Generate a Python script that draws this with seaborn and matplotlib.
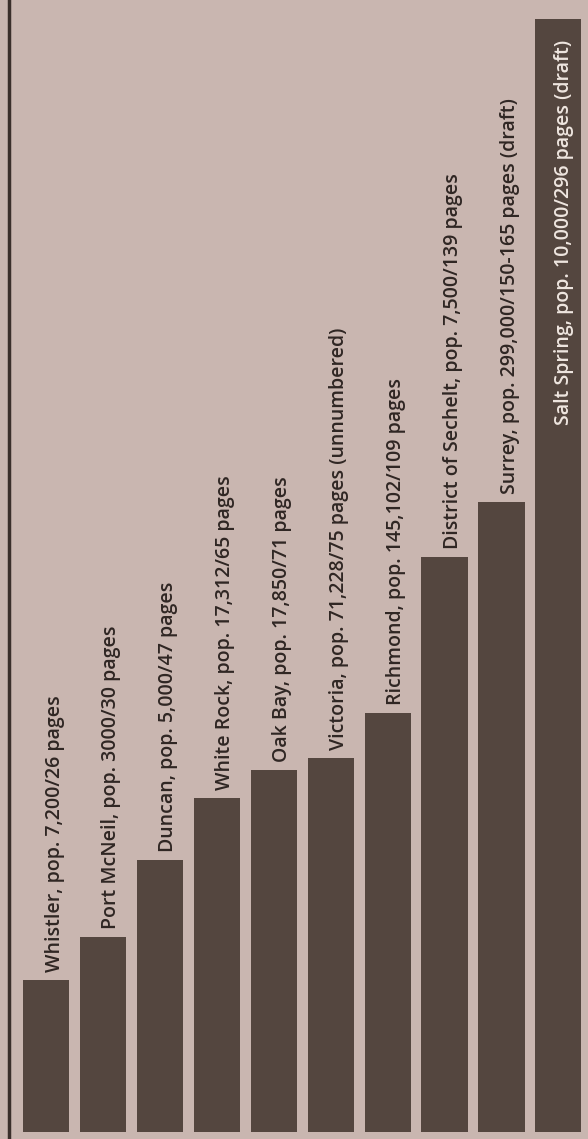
import matplotlib
matplotlib.use('Agg')
import pandas as pd
import seaborn as sns
import matplotlib.pyplot as plt

# Towns and their bar labels (pages of the official community plan)
towns = ['Whistler', 'Port McNeil', 'Duncan', 'White Rock', 'Oak Bay',
         'Victoria', 'Richmond', 'District of Sechelt', 'Surrey', 'Salt Spring']
labels = ['Whistler, pop. 7,200/26 pages',
          'Port McNeil, pop. 3000/30 pages',
          'Duncan, pop. 5,000/47 pages',
          'White Rock, pop. 17,312/65 pages',
          'Oak Bay, pop. 17,850/71 pages',
          'Victoria, pop. 71,228/75 pages (unnumbered)',
          'Richmond, pop. 145,102/109 pages',
          'District of Sechelt, pop. 7,500/139 pages',
          'Surrey, pop. 299,000/150-165 pages (draft)',
          'Salt Spring, pop. 10,000/296 pages (draft)']
# bar heights as drawn in the paper (page units, Salt Spring = 296)
bar_heights = [40.4, 51.9, 72.3, 88.8, 96.3, 99.5, 111.4, 152.9, 167.5, 296]

bg = '#c9b6b0'
bar_color = '#54463f'
ink = '#2f2623'

df = pd.DataFrame({'town': towns, 'height': bar_heights, 'label': labels})

sns.set_style('white')
plt.rcParams['font.family'] = ['Open Sans', 'DejaVu Sans']

fig = plt.figure(figsize=(5.88, 11.39), dpi=100)
fig.patch.set_facecolor(bg)
ax = fig.add_axes([9 / 588, 0, 579 / 588, 1])
ax.set_facecolor(bg)

sns.barplot(data=df, x='town', y='height', color=bar_color, saturation=1,
            width=0.81, linewidth=0, ax=ax)

ax.set_xlim(-0.65, 9.52)
ax.set_ylim(-1.9, 301)

for s in ['top', 'right', 'bottom']:
    ax.spines[s].set_visible(False)
ax.spines['left'].set_color('#3a2f2b')
ax.spines['left'].set_linewidth(2.5)
ax.set_xticks([])
ax.set_yticks([])
ax.set_xlabel('')
ax.set_ylabel('')

# rotated labels sitting on top of each bar, the last one inside its bar
for i, row in df.iterrows():
    if i == len(df) - 1:
        ax.text(i + 0.1, row['height'] - 5.5, row['label'], rotation=90,
                ha='center', va='top', fontsize=14, fontweight='semibold',
                color='#efe6e0')
    else:
        ax.text(i + 0.15, row['height'] + 2.0, row['label'], rotation=90,
                ha='center', va='bottom', fontsize=14, fontweight='semibold',
                color=ink)

plt.savefig('out.png', dpi=100, facecolor=bg)
